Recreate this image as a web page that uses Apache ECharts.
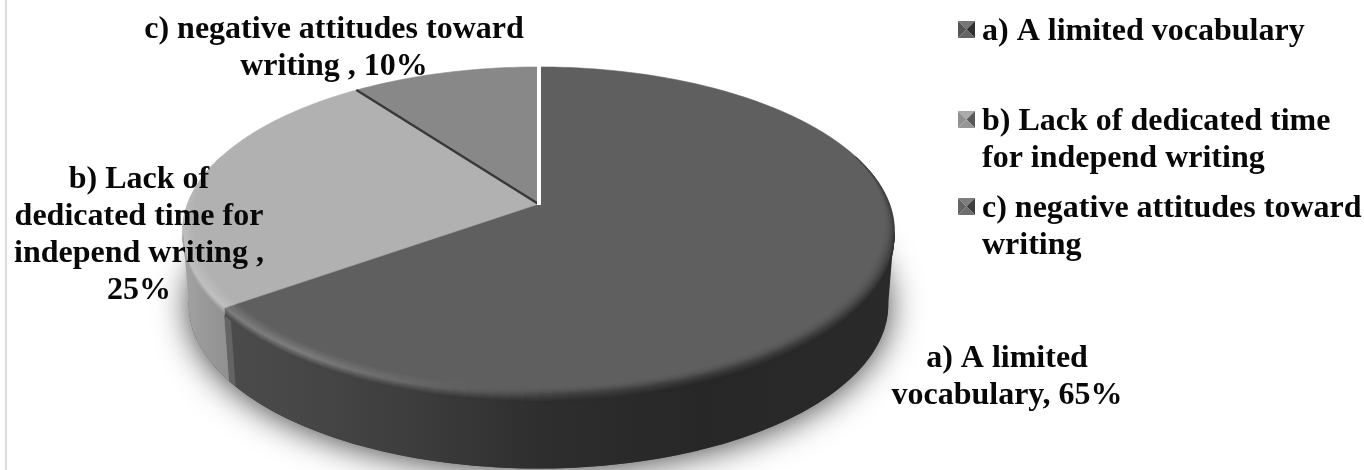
<!DOCTYPE html>
<html><head><meta charset="utf-8">
<style>html,body{margin:0;padding:0;background:#fff}#c{width:1364px;height:470px}</style>
<script src="https://cdn.jsdelivr.net/npm/echarts@6/dist/echarts.min.js"></script>
</head><body><div id="c"></div>
<script>
// ---- data ----
const categories = ['a) A limited vocabulary', 'b) Lack of dedicated time for independ writing', 'c) negative attitudes toward writing'];
const values = [65, 25, 10];
const legendLines = [['a) A limited vocabulary'], ['b) Lack of dedicated time', 'for independ writing'], ['c) negative attitudes toward', 'writing']];
const labelLines = [['a) A limited', 'vocabulary, '], ['b) Lack of', 'dedicated time for', 'independ writing ,', ''], ['c) negative attitudes toward', 'writing , ']];

// ---- styling / layout ----
const FONT = '"Liberation Serif","Times New Roman",serif';
const FS = 32, LH = 37;
const topGrey = [95, 177, 136];
const view = {ax: 538.5, ay: 204, A: 351, B: 159.6, k: 0.1646, wallDrop: 73.5, wallScale: 0.983};
const labelPos = [[1007, 377], [139, 235], [334, 48]];
const legendPos = [[958, 13.5], [958, 103.5], [958, 190.5]];
const markerTones = [[118, 85, 48, 100], [170, 145, 88, 150], [125, 100, 62, 110]];

const clamp = (x, a, b) => Math.max(a, Math.min(b, x));
const rad = d => d * Math.PI / 180;
function pt(theta, r) {
  const u = Math.sin(rad(theta)) * r, v = -Math.cos(rad(theta)) * r, w = 1 - view.k * v;
  return [view.ax + view.A * u / w, view.ay + view.B * v / w];
}
function lowPt(theta, drop) { // point on the wall, drop 0..1 from the top rim to the bottom rim
  const p = pt(theta, 1);
  const s = 1 - (1 - view.wallScale) * drop;
  return [view.ax + (p[0] - view.ax) * s, p[1] + view.wallDrop * drop];
}
const grey = g => { const n = Math.round(clamp(g, 0, 255)); return `rgb(${n},${n},${n})`; };
function interp(x, stops) {
  if (x <= stops[0][0]) return stops[0][1];
  for (let i = 1; i < stops.length; i++) if (x <= stops[i][0]) {
    const a = stops[i - 1], b = stops[i];
    return a[1] + (b[1] - a[1]) * (x - a[0]) / (b[0] - a[0]);
  }
  return stops[stops.length - 1][1];
}
const wallStops = [
  [[225, 75], [300, 71], [420, 60], [540, 46], [700, 39], [895, 42]],
  [[180, 165], [200, 155], [235, 142]],
  [[0, 120], [2000, 120]]
];
const poly = (points, fill, z2) => ({type: 'polygon', silent: true, z2: z2 || 0, shape: {points},
  style: {fill, stroke: fill, lineWidth: 0.6}});
function wallGradient(stops) {
  const x0 = stops[0][0], x1 = stops[stops.length - 1][0];
  return {type: 'linear', global: true, x: x0, y: 0, x2: x1, y2: 0,
    colorStops: stops.map(s => ({offset: (s[0] - x0) / (x1 - x0), color: grey(s[1])}))};
}

function highlight(i, th) {
  if (i === 0) return 30 * clamp((th - 175) / 40, 0, 1);
  if (i === 1) return 14 * clamp((300 - th) / 40, 0, 1);
  return 0;
}
function renderSlice(params, api) {
  const i = params.seriesIndex, val = api.value(0);
  const total = values.reduce((a, b) => a + b, 0);
  let before = 0; for (let j = 0; j < i; j++) before += values[j];
  const t0 = before / total * 360, t1 = (before + val) / total * 360;
  const F = topGrey[i], kids = [];
  if (i === 0) { // cast shadow under the whole disc
    const ring = []; for (let t = 0; t < 360; t += 3) ring.push(lowPt(t, 1));
    kids.push({type: 'polygon', silent: true, shape: {points: ring},
      style: {fill: '#444', shadowBlur: 34, shadowColor: 'rgba(0,0,0,0.75)', shadowOffsetY: 2}});
  }
  // side wall
  const wTone = th => interp(pt(th, 1)[0], wallStops[i]);
  const ws = Math.max(t0, 99), we = Math.min(t1, 261);
  if (we > ws) {
    const up = [], down = [];
    for (let t = ws; t <= we + 1e-6; t += 1) { up.push(lowPt(t, 0)); down.unshift(lowPt(t, 1)); }
    kids.push({type: 'polygon', silent: true, shape: {points: up.concat(down)},
      style: {fill: wallGradient(wallStops[i])}});
  }
  if (i === 0) { // bevelled end of the big slice
    kids.push(poly([lowPt(t1 - 1.8, 0), lowPt(t1, 0), lowPt(t1, 1), lowPt(t1 - 1.8, 1)], grey(100), 1));
  }
  // flat top
  const top = [pt(0, 0)];
  for (let t = t0; t <= t1 + 1e-6; t += 1) top.push(pt(t, 1));
  kids.push(poly(top, grey(F)));
  // rounded rim
  const RINGS = 6, STEP = 2;
  for (let t = t0; t < t1; t += STEP) {
    const e = Math.min(t + STEP, t1), m = (t + e) / 2;
    const off = Math.abs(m - 180);
    const width = 0.036 * clamp((110 - off) / 40, 0, 1);
    if (width <= 0.001) continue;
    const W = wTone(clamp(m, 99, 261)), hl = highlight(i, m), hn = clamp(hl / (i === 0 ? 30 : 14), 0, 1);
    const tone = q => F + hl * q + (W - F) * (1 - hn) * q * q * 0.6;
    for (let q = 0; q < RINGS; q++) {
      const a = q / RINGS, b = (q + 1) / RINGS;
      const ra = 1 - width * (1 - a), rb = 1 - width * (1 - b);
      kids.push(poly([pt(t, ra), pt(e, ra), pt(e, rb), pt(t, rb)], grey(tone(b)), 2));
    }
    if (m > 99 && m < 261) {
      for (let q = 0; q < RINGS; q++) {
        const a = q / RINGS * 0.1, b = (q + 1) / RINGS * 0.1;
        const g = tone(1) + (W - tone(1)) * (q + 1) / RINGS;
        kids.push(poly([lowPt(t, a), lowPt(e, a), lowPt(e, b), lowPt(t, b)], grey(g), 2));
      }
    }
  }
  if (i === 2) { // dividers
    kids.push({type: 'line', silent: true, z2: 5, shape: {x1: pt(0, 0)[0], y1: pt(0, 0)[1], x2: pt(t0, 1)[0], y2: pt(t0, 1)[1]},
      style: {stroke: '#383838', lineWidth: 2.4}});
    kids.push({type: 'line', silent: true, z2: 6, shape: {x1: pt(0, 0)[0] + 0.5, y1: pt(0, 0)[1] + 1, x2: pt(0, 1)[0] + 0.5, y2: pt(0, 1)[1] - 3},
      style: {stroke: '#ffffff', lineWidth: 4}});
  }
  return {type: 'group', children: kids};
}
function markerIcon(i) {
  const w = 19, h = legendLines[i].length > 1 ? 59 : 22, c = document.createElement('canvas');
  c.width = w; c.height = h;
  const g = c.getContext('2d'), s = 17, m = [8.5, 8.5], tone = markerTones[i];
  const tri = (p, q, v) => { g.fillStyle = grey(v); g.beginPath(); g.moveTo(...p); g.lineTo(...q); g.lineTo(...m); g.closePath(); g.fill(); };
  tri([0, 0], [s, 0], tone[0]); tri([0, 0], [0, s], tone[1]);
  tri([s, 0], [s, s], tone[2]); tri([0, s], [s, s], tone[3]);
  return 'image://' + c.toDataURL();
}
const series = categories.map((name, i) => ({
  type: 'custom', name, coordinateSystem: 'none', renderItem: renderSlice,
  data: [[values[i]]], animation: false, silent: true, z: 2
}));
const legend = categories.map((name, i) => {
  const two = legendLines[i].length > 1;
  return {
    data: [name], left: legendPos[i][0], top: legendPos[i][1], orient: 'vertical', padding: 0,
    selectedMode: false, itemWidth: 19, itemHeight: two ? 59 : 22, icon: markerIcon(i),
    formatter: () => legendLines[i].join('\n'),
    textStyle: {fontFamily: FONT, fontSize: FS, fontWeight: 'bold', color: '#080808', lineHeight: LH}
  };
});
const labels = labelLines.map((lines, i) => {
  const txt = lines.slice();
  txt[txt.length - 1] += values[i] + '%';
  return {type: 'text', z: 100, silent: true, x: labelPos[i][0], y: labelPos[i][1],
    style: {text: txt.join('\n'), align: 'center', verticalAlign: 'middle', fontFamily: FONT, fontSize: FS,
      fontWeight: 'bold', fill: '#080808', lineHeight: LH}};
});
const frame = {type: 'rect', z: 0, silent: true, shape: {x: 5, y: 0, width: 2, height: 470}, style: {fill: '#dcdcdc'}};
const chart = echarts.init(document.getElementById('c'), null, {renderer: 'canvas'});
chart.setOption({
  backgroundColor: '#ffffff', animation: false, legend, series,
  graphic: {elements: [frame].concat(labels)}
});
</script></body></html>
